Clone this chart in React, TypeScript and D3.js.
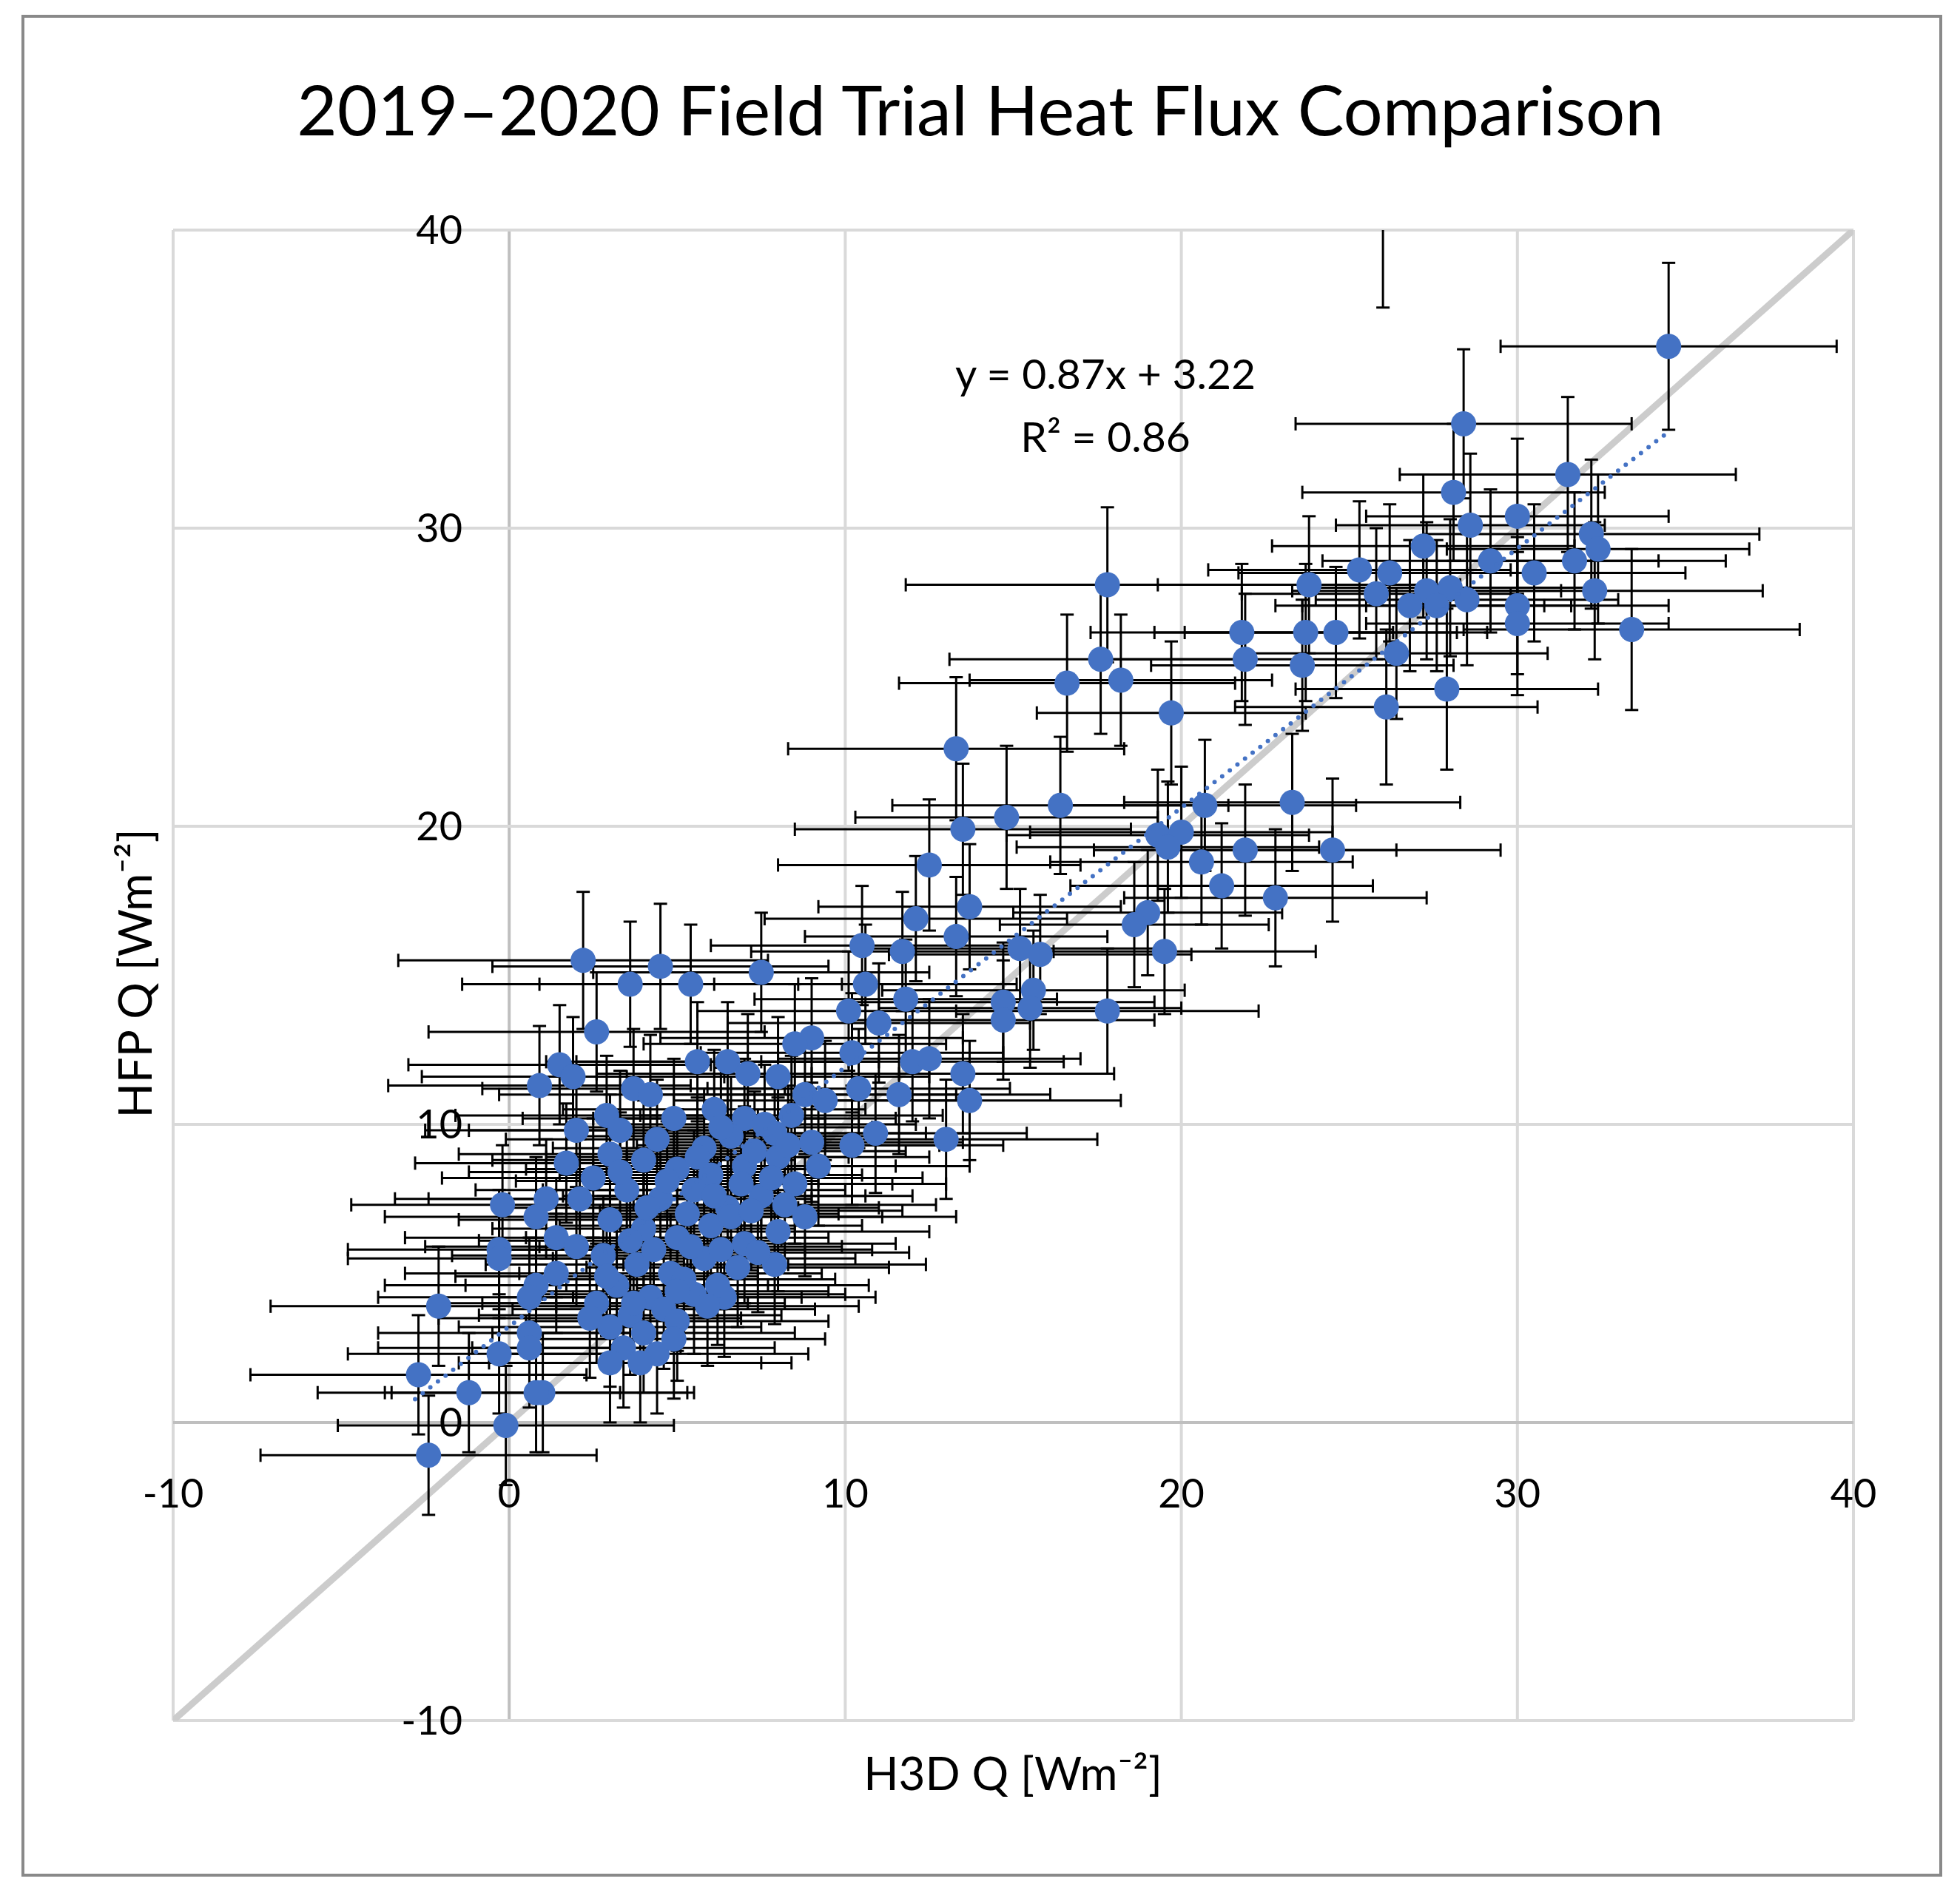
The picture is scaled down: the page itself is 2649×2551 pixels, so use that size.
import React from "react";
import * as d3 from "d3";

const TITLE = "2019–2020 Field Trial Heat Flux Comparison";
const X_TICKS = [-10, 0, 10, 20, 30, 40];
const Y_TICKS = [-10, 0, 10, 20, 30, 40];
const SLOPE = 0.87;
const INTERCEPT = 3.22;
const TREND_RANGE = [-2.8, 34.5];

// [x, y, xErr, yErr]
const POINTS: [number, number, number, number][] = [
  [34.5, 36.1, 5.0, 2.8], [28.4, 33.5, 5.0, 2.5], [28.1, 31.2, 4.5, 2.3], [31.5, 31.8, 5.0, 2.6],
  [30.0, 30.4, 4.5, 2.6], [28.6, 30.1, 4.0, 2.4], [27.2, 29.4, 4.5, 2.4], [29.2, 28.9, 5.0, 2.4],
  [32.2, 29.8, 5.0, 2.5], [32.4, 29.3, 4.5, 2.5], [31.7, 28.9, 4.5, 2.3], [30.5, 28.5, 4.5, 2.3],
  [25.3, 28.6, 4.5, 2.3], [26.2, 28.5, 4.5, 2.3], [23.8, 28.1, 4.5, 2.3], [17.8, 28.1, 6.0, 2.6],
  [27.3, 27.9, 4.0, 2.3], [28.0, 28.0, 4.5, 2.3], [28.5, 27.6, 4.5, 2.2], [27.6, 27.4, 4.0, 2.2],
  [26.8, 27.4, 4.0, 2.2], [25.8, 27.8, 4.0, 2.2], [32.3, 27.9, 5.0, 2.3], [30.0, 27.4, 4.5, 2.3],
  [30.0, 26.8, 4.5, 2.4], [33.4, 26.6, 5.0, 2.7], [23.7, 26.5, 4.5, 2.3], [24.6, 26.5, 4.5, 2.2],
  [21.8, 26.5, 4.5, 2.3], [26.4, 25.8, 4.5, 2.2], [21.9, 25.6, 4.5, 2.2], [17.6, 25.6, 4.5, 2.5],
  [23.6, 25.4, 4.5, 2.2], [16.6, 24.8, 5.0, 2.3], [18.2, 24.9, 4.5, 2.2], [27.9, 24.6, 4.5, 2.7],
  [26.1, 24.0, 4.5, 2.6], [19.7, 23.8, 4.0, 2.4], [13.3, 22.6, 5.0, 2.4], [16.4, 20.7, 5.0, 2.3],
  [14.8, 20.3, 4.5, 2.4], [13.5, 19.9, 5.0, 2.2], [20.7, 20.7, 4.5, 2.2], [23.3, 20.8, 5.0, 2.3],
  [19.3, 19.7, 4.5, 2.2], [20.0, 19.8, 4.5, 2.2], [19.6, 19.3, 4.5, 2.2], [21.9, 19.2, 4.5, 2.2],
  [24.5, 19.2, 5.0, 2.4], [12.5, 18.7, 4.5, 2.2], [20.6, 18.8, 4.5, 2.1], [21.2, 18.0, 4.5, 2.1],
  [22.8, 17.6, 4.5, 2.3], [13.7, 17.3, 4.5, 2.1], [12.1, 16.9, 4.5, 2.1], [19.0, 17.1, 4.0, 2.1],
  [18.6, 16.7, 4.0, 2.1], [13.3, 16.3, 4.5, 2.0], [10.5, 16.0, 4.5, 2.0], [11.7, 15.8, 4.5, 2.0],
  [19.5, 15.8, 4.5, 2.1], [15.8, 15.7, 4.5, 2.0], [15.2, 15.9, 4.5, 2.0], [2.2, 15.5, 5.5, 2.3],
  [4.5, 15.3, 5.0, 2.1], [7.5, 15.1, 5.0, 2.0], [3.6, 14.7, 5.0, 2.1], [5.4, 14.7, 4.5, 2.0],
  [10.6, 14.7, 4.5, 2.0], [15.6, 14.5, 4.5, 2.0], [11.8, 14.2, 4.5, 2.0], [14.7, 14.1, 4.5, 2.0],
  [17.8, 13.8, 4.5, 2.1], [15.5, 13.9, 4.5, 2.0], [14.7, 13.5, 4.5, 2.0], [10.1, 13.8, 4.5, 2.0],
  [11.0, 13.4, 4.5, 2.0], [2.6, 13.1, 5.0, 2.0], [9.0, 12.9, 4.5, 2.0], [8.5, 12.7, 4.5, 2.0],
  [10.2, 12.4, 4.5, 2.0], [12.0, 12.1, 4.5, 2.0], [12.5, 12.2, 4.5, 2.0], [13.5, 11.7, 4.5, 2.0],
  [5.6, 12.1, 4.5, 2.0], [6.5, 12.1, 4.5, 2.0], [1.5, 12.0, 4.5, 2.0], [1.9, 11.6, 4.5, 2.0],
  [8.0, 11.6, 4.5, 2.0], [7.1, 11.7, 4.5, 2.0], [10.4, 11.2, 4.5, 2.0], [0.9, 11.3, 4.5, 2.0],
  [3.7, 11.2, 4.5, 2.0], [4.2, 11.0, 4.5, 2.0], [11.6, 11.0, 4.5, 2.0], [13.7, 10.8, 4.5, 2.0],
  [8.8, 11.0, 4.5, 2.0], [13.0, 9.5, 4.5, 2.0], [2.9, 10.3, 4.5, 2.0], [6.1, 10.5, 4.5, 2.0],
  [7.0, 10.2, 4.5, 2.0], [4.9, 10.2, 4.5, 2.0], [2.0, 9.8, 4.5, 2.0], [3.3, 9.8, 4.5, 2.0],
  [10.9, 9.7, 4.5, 2.0], [10.2, 9.3, 4.5, 2.0], [7.9, 9.7, 4.5, 2.0], [9.0, 9.4, 4.5, 2.0],
  [-0.2, 7.3, 4.5, 2.0], [1.1, 7.5, 4.5, 2.0], [0.8, 6.9, 4.5, 2.0], [1.4, 6.2, 4.5, 2.0],
  [2.0, 5.9, 4.5, 2.0], [-0.3, 5.8, 4.5, 2.0], [-0.3, 5.5, 4.5, 2.0], [1.4, 5.0, 4.5, 2.0],
  [0.8, 4.6, 4.5, 2.0], [0.6, 4.2, 4.5, 2.0], [-2.1, 3.9, 5.0, 2.0], [0.6, 3.0, 4.5, 2.0],
  [0.6, 2.5, 4.5, 2.0], [-0.3, 2.3, 4.5, 2.0], [-2.7, 1.6, 5.0, 2.0], [-1.2, 1.0, 4.5, 2.0],
  [1.0, 1.0, 4.5, 2.0], [0.8, 1.0, 4.5, 2.0], [-0.1, -0.1, 5.0, 2.0], [-2.4, -1.1, 5.0, 2.0],
  [8.8, 6.9, 4.5, 2.0], [7.9, 5.3, 4.5, 2.0], [6.4, 4.2, 4.5, 2.0], [5.5, 4.3, 4.5, 2.0],
  [3.0, 9.0, 4.5, 2.0], [4.0, 8.8, 4.5, 2.0], [5.0, 8.5, 4.5, 2.0], [6.0, 8.3, 4.5, 2.0],
  [7.0, 8.6, 4.5, 2.0], [8.0, 8.9, 4.5, 2.0], [9.2, 8.6, 4.5, 2.0], [2.5, 8.2, 4.5, 2.0],
  [3.5, 7.8, 4.5, 2.0], [4.5, 7.5, 4.5, 2.0], [5.5, 7.8, 4.5, 2.0], [6.5, 7.2, 4.5, 2.0],
  [7.5, 7.6, 4.5, 2.0], [8.5, 8.0, 4.5, 2.0], [3.0, 6.8, 4.5, 2.0], [4.0, 6.5, 4.5, 2.0],
  [5.0, 6.2, 4.5, 2.0], [6.0, 6.6, 4.5, 2.0], [7.0, 6.0, 4.5, 2.0], [8.0, 6.4, 4.5, 2.0],
  [2.8, 5.6, 4.5, 2.0], [3.8, 5.3, 4.5, 2.0], [4.8, 5.0, 4.5, 2.0], [5.8, 5.5, 4.5, 2.0],
  [6.8, 5.2, 4.5, 2.0], [3.2, 4.6, 4.5, 2.0], [4.2, 4.2, 4.5, 2.0], [5.2, 4.8, 4.5, 2.0],
  [6.2, 4.6, 4.5, 2.0], [2.6, 4.0, 4.5, 2.0], [3.6, 3.6, 4.5, 2.0], [4.6, 3.8, 4.5, 2.0],
  [3.0, 3.2, 4.5, 2.0], [4.0, 3.0, 4.5, 2.0], [2.4, 3.5, 4.5, 2.0], [3.4, 2.5, 4.5, 2.0],
  [4.4, 2.3, 4.5, 2.0], [3.0, 2.0, 4.5, 2.0], [3.9, 2.0, 4.5, 2.0], [5.0, 3.4, 4.5, 2.0],
  [6.6, 9.6, 4.5, 2.0], [7.6, 10.0, 4.5, 2.0], [5.8, 9.2, 4.5, 2.0], [4.4, 9.5, 4.5, 2.0],
  [8.4, 10.3, 4.5, 2.0], [9.4, 10.8, 4.5, 2.0], [6.9, 8.0, 4.5, 2.0], [5.3, 7.0, 4.5, 2.0],
  [2.1, 7.5, 4.5, 2.0], [1.7, 8.7, 4.5, 2.0], [6.3, 5.8, 4.5, 2.0], [7.3, 9.1, 4.5, 2.0],
  [3.3, 8.4, 4.5, 2.0], [4.7, 8.1, 4.5, 2.0], [5.6, 8.9, 4.5, 2.0], [6.3, 9.9, 4.5, 2.0],
  [7.8, 8.2, 4.5, 2.0], [8.3, 9.3, 4.5, 2.0], [3.6, 6.1, 4.5, 2.0], [4.3, 5.8, 4.5, 2.0],
  [5.4, 5.9, 4.5, 2.0], [6.6, 6.9, 4.5, 2.0], [7.2, 7.1, 4.5, 2.0], [4.1, 7.2, 4.5, 2.0],
  [5.0, 4.4, 4.5, 2.0], [5.9, 3.9, 4.5, 2.0], [2.9, 4.9, 4.5, 2.0], [3.7, 4.0, 4.5, 2.0],
  [4.9, 2.8, 4.5, 2.0], [6.1, 7.6, 4.5, 2.0], [7.4, 5.7, 4.5, 2.0], [8.2, 7.3, 4.5, 2.0],
  [26.0, 41.5, 0, 4.1],
];

const W = 2649, H = 2551;
const L = 234, R = 2505, T = 311, B = 2326;
const FONT = "Lato, 'Open Sans', sans-serif";
const BLUE = "#4472C4";

export default function App() {
  const x = d3.scaleLinear().domain([-10, 40]).range([L, R]);
  const y = d3.scaleLinear().domain([-10, 40]).range([B, T]);
  const trend = d3.line<number>().x((v) => x(v)).y((v) => y(SLOPE * v + INTERCEPT));
  const cap = 9;
  return (
    <svg width={W} height={H} style={{ position: "absolute", left: 0, top: 0, background: "#fff" }}>
      <rect x={31} y={22} width={2592} height={2513} fill="#fff" stroke="#898989" strokeWidth={4} />
      <text x={1325} y={183} fontSize={94} fontFamily={FONT} textAnchor="middle">{TITLE}</text>
      <defs>
        <clipPath id="pa"><rect x={L} y={T} width={R - L} height={B - T} /></clipPath>
      </defs>
      {X_TICKS.map((t) => (
        <line key={"gx" + t} x1={x(t)} x2={x(t)} y1={T} y2={B} stroke={t === 0 ? "#bfbfbf" : "#d9d9d9"} strokeWidth={4} />
      ))}
      {Y_TICKS.map((t) => (
        <line key={"gy" + t} x1={L} x2={R} y1={y(t)} y2={y(t)} stroke={t === 0 ? "#bfbfbf" : "#d9d9d9"} strokeWidth={4} />
      ))}
      <g clipPath="url(#pa)">
        <line x1={x(-10)} y1={y(-10)} x2={x(40)} y2={y(40)} stroke="#cccccc" strokeWidth={9} />
        {POINTS.map(([px, py, xe, ye], i) => (
          <g key={"e" + i} stroke="#000" strokeWidth={3}>
            {xe > 0 && <line x1={x(px - xe)} x2={x(px + xe)} y1={y(py)} y2={y(py)} />}
            {xe > 0 && <line x1={x(px - xe)} x2={x(px - xe)} y1={y(py) - cap} y2={y(py) + cap} />}
            {xe > 0 && <line x1={x(px + xe)} x2={x(px + xe)} y1={y(py) - cap} y2={y(py) + cap} />}
            <line x1={x(px)} x2={x(px)} y1={y(py - ye)} y2={y(py + ye)} />
            <line x1={x(px) - cap} x2={x(px) + cap} y1={y(py - ye)} y2={y(py - ye)} />
            <line x1={x(px) - cap} x2={x(px) + cap} y1={y(py + ye)} y2={y(py + ye)} />
          </g>
        ))}
        {POINTS.map(([px, py], i) => (
          <circle key={"p" + i} cx={x(px)} cy={y(py)} r={17} fill={BLUE} />
        ))}
        <path d={trend(TREND_RANGE) || ""} stroke={BLUE} strokeWidth={6} strokeDasharray="0 13" strokeLinecap="round" fill="none" />
      </g>
      {Y_TICKS.map((t) => (
        <text key={"yt" + t} x={625} y={y(t)} dy="0.35em" fontSize={54} fontFamily={FONT} textAnchor="end">{t}</text>
      ))}
      {X_TICKS.map((t) => (
        <text key={"xt" + t} x={x(t)} y={2038} fontSize={54} fontFamily={FONT} textAnchor="middle">{t}</text>
      ))}
      <text x={1494} y={526} fontSize={57} fontFamily={FONT} textAnchor="middle">y = 0.87x + 3.22</text>
      <text x={1494} y={611} fontSize={57} fontFamily={FONT} textAnchor="middle">R² = 0.86</text>
      <text x={1369} y={2420} fontSize={62} fontFamily={FONT} textAnchor="middle">H3D Q [Wm⁻²]</text>
      <text transform="translate(205,1316) rotate(-90)" fontSize={62} fontFamily={FONT} textAnchor="middle">HFP Q [Wm⁻²]</text>
    </svg>
  );
}
